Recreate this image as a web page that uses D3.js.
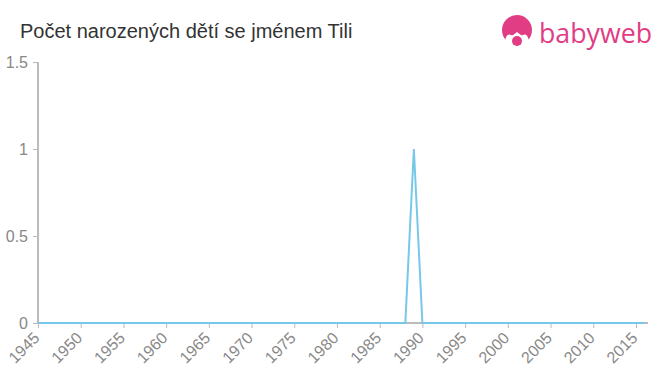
<!DOCTYPE html>
<html><head><meta charset="utf-8">
<script src="https://cdn.jsdelivr.net/npm/d3@7"></script>
<style>
html,body{margin:0;padding:0;background:#fff;}
svg{display:block;font-family:"Liberation Sans",Arial,sans-serif;}
</style></head>
<body><svg id="c" width="660" height="375"></svg>
<script>
const title = "Počet narozených dětí se jménem Tili";
const years = d3.range(1945, 2017);
const counts = years.map(y => y === 1989 ? 1 : 0);
const yTicks = [0, 0.5, 1, 1.5];
const xTicks = [1945,1950,1955,1960,1965,1970,1975,1980,1985,1990,1995,2000,2005,2010,2015];

const svg = d3.select("#c");
const x = d3.scaleLinear().domain([1945, 2016]).range([38, 644.5]);
const y = d3.scaleLinear().domain([0, 1.5]).range([323, 62]);

svg.append("text").attr("x", 20).attr("y", 38).attr("font-size", 20)
  .attr("fill", "#333").text(title);

// logo
const logo = svg.append("g");
logo.append("circle").attr("cx", 517).attr("cy", 30).attr("r", 15).attr("fill", "#e03d85");
logo.append("path").attr("d", "M505,44 C505,36 508,33 511,35 C513,36 514,34 517,32 C520,34 521,36 523,35 C526,33 529,36 529,44 Z")
  .attr("fill", "#fff");
logo.append("circle").attr("cx", 517).attr("cy", 41).attr("r", 5).attr("fill", "#e03d85");
logo.append("text").attr("x", 539).attr("y", 43).attr("font-size", 28)
  .attr("font-family", "'Open Sans',sans-serif").attr("fill", "#e03d85")
  .attr("textLength", 113).attr("lengthAdjust", "spacingAndGlyphs").text("babyweb");

// y axis
const ya = svg.append("g").attr("transform", "translate(38,0)")
  .call(d3.axisLeft(y).tickValues(yTicks).tickSize(5).tickPadding(5).tickFormat(d3.format("")));
ya.select(".domain").attr("stroke", "#bbb").attr("stroke-width", 2).attr("d", "M0,62V323");
ya.selectAll(".tick line").attr("stroke", "#bbb");
ya.selectAll(".tick text").attr("fill", "#888").attr("font-size", 16).attr("font-family", "'Liberation Sans',Arial,sans-serif");

// x axis
const xa = svg.append("g").attr("transform", "translate(0,323)")
  .call(d3.axisBottom(x).tickValues(xTicks).tickSize(5).tickFormat(d3.format("d")));
xa.select(".domain").attr("stroke", "#bbb").attr("stroke-width", 2).attr("d", "M38,0H648");
xa.selectAll(".tick line").attr("stroke", "#bbb");
xa.selectAll(".tick text").attr("fill", "#888").attr("font-size", 16)
  .attr("font-family", "'Liberation Sans',Arial,sans-serif")
  .attr("text-anchor", "end").attr("dy", null).attr("y", 0)
  .attr("transform", "translate(2,16) rotate(-45)");

// line
svg.append("path").datum(years.map((yr, i) => [yr, counts[i]]))
  .attr("fill", "none").attr("stroke", "#77c8e8").attr("stroke-width", 2)
  .attr("d", d3.line().x(d => x(d[0])).y(d => y(d[1])));
</script></body></html>
